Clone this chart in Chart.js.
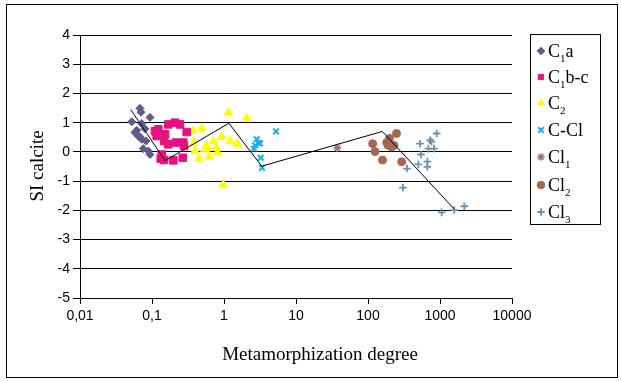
<!DOCTYPE html>
<html><head><meta charset="utf-8">
<script src="https://cdn.jsdelivr.net/npm/chart.js@4/dist/chart.umd.min.js"></script>
<style>html,body{margin:0;padding:0;background:#fff}#wrap{width:621px;height:381px}</style>
</head><body><div id="wrap"><canvas id="c" width="621" height="381"></canvas></div>
<script>
// ---- data ----
const seriesNames = ['C₁a', 'C₁b-c', 'C₂', 'C-Cl', 'Cl₁', 'Cl₂', 'Cl₃'];
const c1aX = [0.068, 0.0703, 0.0938, 0.0523, 0.072, 0.058, 0.0646, 0.072, 0.0826, 0.0613, 0.0757, 0.089, 0.0938, 0.080, 0.068];
const c1aY = [1.49, 1.36, 1.18, 1.03, 0.97, 0.66, 0.54, 0.43, 0.37, 0.74, 0.11, 0.03, -0.09, 0.79, 0.52];
const c1bcX = [0.110, 0.1224, 0.168, 0.2085, 0.245, 0.303, 0.152, 0.147, 0.168, 0.215, 0.272, 0.278, 0.132, 0.147, 0.198, 0.267, 0.116, 0.1365];
const c1bcY = [0.71, 0.77, 0.94, 1.00, 0.94, 0.68, 0.60, 0.37, 0.26, 0.32, 0.32, 0.20, -0.23, -0.28, -0.29, -0.20, 0.54, -0.09];
const c2X = [1.148, 2.07, 0.375, 0.49, 0.93, 0.71, 1.21, 1.53, 0.575, 0.79, 0.395, 0.545, 0.81, 0.625, 0.45, 0.977, 0.383];
const c2Y = [1.34, 1.16, 0.71, 0.80, 0.51, 0.37, 0.37, 0.28, 0.20, 0.14, 0.03, 0.09, -0.03, -0.16, -0.22, -1.13, 0.31];
const cclX = [5.27, 2.85, 2.99, 2.70, 3.16, 2.61, 3.23, 3.37];
const cclY = [0.70, 0.43, 0.31, 0.22, 0.29, 0.11, -0.20, -0.54];
const cl1X = [37.5];
const cl1Y = [0.14];
const cl2X = [116, 125, 159, 182, 199, 213, 249, 294, 190, 230];
const cl2Y = [0.28, 0.01, -0.28, 0.32, 0.46, 0.17, 0.63, -0.34, 0.23, 0.22];
const cl3X = [900, 527, 726, 762, 689, 826, 544, 667, 667, 500, 348, 306, 1057, 1575, 2175];
const cl3Y = [0.63, 0.28, 0.40, 0.35, 0.11, 0.11, -0.09, -0.33, -0.51, -0.43, -0.57, -1.22, -2.07, -1.99, -1.86];
const trendX = [0.0506, 0.152, 1.17, 3.34, 158, 1564];
const trendY = [1.45, -0.30, 0.98, -0.49, 0.70, -1.95];
const xTickValues = [0.01, 0.1, 1, 10, 100, 1000, 10000];
const xTickLabels = ['0,01', '0,1', '1', '10', '100', '1000', '10000'];
const yTickValues = [-5, -4, -3, -2, -1, 0, 1, 2, 3, 4];
const xTitle = 'Metamorphization degree';
const yTitle = 'SI calcite';

const pts = (xs, ys) => xs.map((x, i) => ({x: x, y: ys[i]}));

const styles = [
  {pointStyle: 'rectRot', radius: 4, color: '#5f5a8e', bw: 1},
  {pointStyle: 'rect', radius: 5.3, color: '#e8107f', bw: 1},
  {pointStyle: 'triangle', radius: 5, color: '#ffff00', bw: 1},
  {pointStyle: 'crossRot', radius: 4, color: '#19aee8', bw: 2},
  {pointStyle: 'star', radius: 4, color: '#a0707f', bw: 1.5},
  {pointStyle: 'circle', radius: 4, color: '#a5674f', bw: 1},
  {pointStyle: 'cross', radius: 3.8, color: '#6a93b3', bw: 1.8}
];
const seriesData = [pts(c1aX, c1aY), pts(c1bcX, c1bcY), pts(c2X, c2Y), pts(cclX, cclY), pts(cl1X, cl1Y), pts(cl2X, cl2Y), pts(cl3X, cl3Y)];

const datasets = [{
  label: 'trend', data: pts(trendX, trendY), showLine: true, borderColor: '#000', borderWidth: 1,
  pointRadius: 0, fill: false, order: 0
}];
seriesData.forEach((d, i) => {
  const s = styles[i];
  datasets.push({
    label: seriesNames[i], data: d, showLine: false, pointStyle: s.pointStyle, pointRadius: s.radius,
    backgroundColor: s.color, borderColor: s.color, borderWidth: s.bw, order: 1
  });
});

function drawRich(ctx, text, x, y, size) {
  const subs = '₀₁₂₃₄₅₆₇₈₉';
  let cx = x;
  for (const ch of text) {
    const k = subs.indexOf(ch);
    if (k >= 0) {
      ctx.font = Math.round(size * 0.6) + 'px "Liberation Serif"';
      ctx.fillText(String(k), cx, y + size * 0.28);
      cx += ctx.measureText(String(k)).width;
    } else {
      ctx.font = size + 'px "Liberation Serif"';
      ctx.fillText(ch, cx, y);
      cx += ctx.measureText(ch).width;
    }
  }
}

function drawMarker(ctx, s, x, y) {
  ctx.save();
  ctx.fillStyle = s.color; ctx.strokeStyle = s.color; ctx.lineWidth = s.bw;
  if (Chart.helpers && Chart.helpers.drawPoint) {
    Chart.helpers.drawPoint(ctx, {pointStyle: s.pointStyle, radius: s.radius, rotation: 0, borderWidth: s.bw}, x, y);
  }
  ctx.restore();
}

const extras = {
  id: 'extras',
  afterDraw(chart) {
    const ctx = chart.ctx;
    ctx.save();
    ctx.strokeStyle = '#000'; ctx.lineWidth = 1;
    ctx.strokeRect(6.5, 4.5, 611, 373);
    ctx.fillStyle = '#000';
    ctx.font = '19px "Liberation Serif"';
    ctx.textAlign = 'center'; ctx.textBaseline = 'middle';
    ctx.fillText(xTitle, 320, 355);
    ctx.save();
    ctx.translate(38, 166); ctx.rotate(-Math.PI / 2);
    ctx.fillText(yTitle, 0, 0);
    ctx.restore();
    ctx.strokeRect(530.5, 34.5, 70, 190);
    ctx.textAlign = 'left'; ctx.textBaseline = 'alphabetic';
    const ys = [51, 77, 103, 130, 157, 185, 212];
    seriesNames.forEach((n, i) => {
      const sm = Object.assign({}, styles[i], {radius: Math.min(styles[i].radius, 3.8)});
      drawMarker(ctx, sm, 541, ys[i]);
      ctx.fillStyle = '#000';
      drawRich(ctx, n, 548, ys[i] + 6, 18);
    });
    ctx.restore();
  }
};

new Chart(document.getElementById('c'), {
  type: 'scatter',
  data: {datasets: datasets},
  options: {
    responsive: false, animation: false, devicePixelRatio: 1,
    layout: {padding: {left: 0, top: 35, right: 109, bottom: 0}},
    plugins: {legend: {display: false}, tooltip: {enabled: false}},
    scales: {
      x: {
        type: 'logarithmic', min: 0.01, max: 10000,
        afterBuildTicks: s => { s.ticks = xTickValues.map(v => ({value: v, major: true})); },
        afterFit: s => { s.height = 83; },
        ticks: {autoSkip: false, maxRotation: 0, color: '#000', padding: 4,
          font: {family: '"Liberation Sans"', size: 14},
          callback: (v, i) => xTickLabels[i]},
        grid: {drawOnChartArea: false, drawTicks: true, tickLength: 6, tickColor: '#000'},
        border: {color: '#000', width: 1}
      },
      y: {
        type: 'linear', min: -5, max: 4,
        afterBuildTicks: s => { s.ticks = yTickValues.map(v => ({value: v})); },
        afterFit: s => { s.width = 80; },
        ticks: {color: '#000', padding: 3, font: {family: '"Liberation Sans"', size: 14},
          callback: v => String(v)},
        grid: {color: '#000', lineWidth: 1, drawTicks: true, tickLength: 7, tickColor: '#000'},
        border: {color: '#000', width: 1}
      }
    }
  },
  plugins: [extras]
});
</script></body></html>
